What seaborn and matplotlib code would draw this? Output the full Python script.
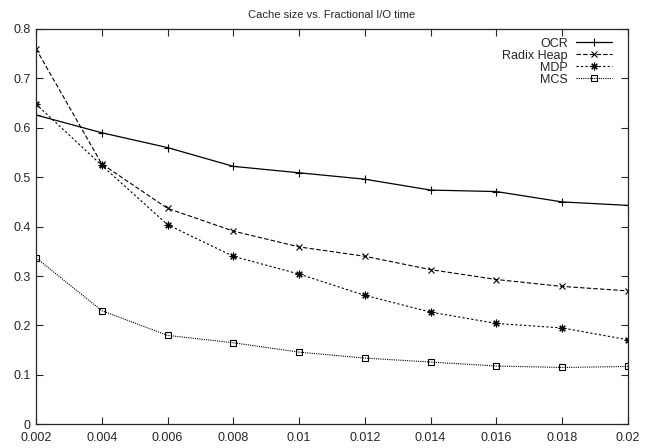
import matplotlib
matplotlib.use("Agg")
import matplotlib.pyplot as plt
import seaborn as sns
import pandas as pd

cache_sizes = [0.002, 0.004, 0.006, 0.008, 0.010, 0.012, 0.014, 0.016, 0.018, 0.020]
ocr = [0.626, 0.590, 0.560, 0.522, 0.509, 0.496, 0.474, 0.471, 0.450, 0.443]
radix_heap = [0.760, 0.527, 0.437, 0.391, 0.359, 0.340, 0.313, 0.293, 0.279, 0.270]
mdp = [0.648, 0.524, 0.404, 0.340, 0.304, 0.261, 0.227, 0.204, 0.195, 0.171]
mcs = [0.337, 0.230, 0.180, 0.165, 0.146, 0.134, 0.126, 0.118, 0.115, 0.117]
series_names = ["OCR", "Radix Heap", "MDP", "MCS"]
x_ticks = [0.002, 0.004, 0.006, 0.008, 0.01, 0.012, 0.014, 0.016, 0.018, 0.02]
x_tick_labels = ["0.002", "0.004", "0.006", "0.008", "0.01", "0.012", "0.014", "0.016", "0.018", "0.02"]
y_ticks = [0, 0.1, 0.2, 0.3, 0.4, 0.5, 0.6, 0.7, 0.8]
y_tick_labels = ["0", "0.1", "0.2", "0.3", "0.4", "0.5", "0.6", "0.7", "0.8"]

sns.set_style("ticks")
plt.rcParams["font.family"] = ["Liberation Sans", "DejaVu Sans"]

df = pd.DataFrame({
    "x": cache_sizes * 4,
    "y": ocr + radix_heap + mdp + mcs,
    "series": sum([[n] * len(cache_sizes) for n in series_names], []),
})

fig = plt.figure(figsize=(6.54, 4.48), dpi=100)
ax = fig.add_axes([0.0550, 0.0529, 0.9052, 0.8824])

styles = {
    "OCR": dict(ls="-", marker="+", ms=6, lw=0.9),
    "Radix Heap": dict(ls=(0, (4, 2)), marker="x", ms=4.5, lw=0.8),
    "MDP": dict(ls=(0, (2, 2)), marker=(8, 2, 0), ms=5.5, lw=0.8),
    "MCS": dict(ls=(0, (1, 1)), marker="s", ms=4.5, lw=0.8),
}
for name in series_names:
    s = styles[name]
    sub = df[df["series"] == name]
    sns.lineplot(data=sub, x="x", y="y", ax=ax, color="black", label=name,
                 linestyle=s["ls"], marker=s["marker"], markersize=s["ms"],
                 linewidth=s["lw"], markerfacecolor="none", markeredgecolor="black",
                 markeredgewidth=0.8)

ax.set_xlim(0.002, 0.02)
ax.set_ylim(0, 0.8)
ax.set_xticks(x_ticks)
ax.set_xticklabels(x_tick_labels)
ax.set_yticks(y_ticks)
ax.set_yticklabels(y_tick_labels)
ax.tick_params(direction="in", top=True, right=True, length=5, width=0.8, labelsize=9)
ax.tick_params(axis="x", pad=5.5)
ax.tick_params(axis="y", pad=4)
for sp in ax.spines.values():
    sp.set_visible(True)
    sp.set_linewidth(0.9)
ax.set_xlabel("")
ax.set_ylabel("")
ax.set_title("Cache size vs. Fractional I/O time", fontsize=8, pad=8)

leg = ax.legend(loc="upper right", bbox_to_anchor=(1 - 7 / 592, 1.0), frameon=False,
                markerfirst=False, fontsize=9, handlelength=2.9, labelspacing=0.0,
                borderaxespad=0.3, handletextpad=0.64)
for t in leg.get_texts():
    t.set_ha("right")
leg._legend_box.align = "right"

fig.savefig("out.png", dpi=100)
